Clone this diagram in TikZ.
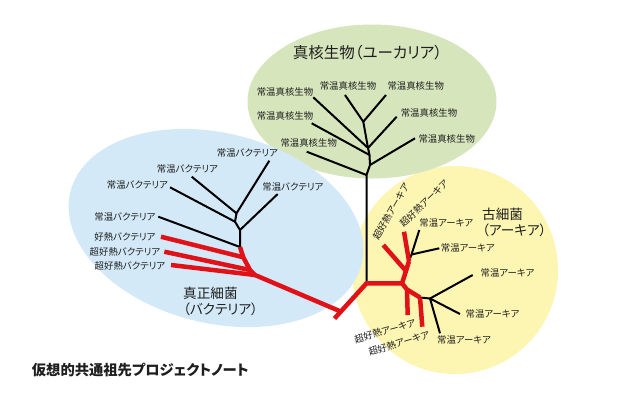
\documentclass[tikz,border=0pt]{standalone}
\usepackage{fontspec}
\setmainfont{Noto Sans CJK JP}[RawFeature=+palt]
\definecolor{greenc}{RGB}{214,229,188}
\definecolor{bluec}{RGB}{211,233,247}
\definecolor{yellowc}{RGB}{253,245,178}
\definecolor{redc}{RGB}{224,18,24}
\definecolor{textc}{RGB}{30,30,30}
\begin{document}
\begin{tikzpicture}[x=1pt,y=-1pt,
  lab/.style={font=\fontsize{9.4}{10}\selectfont, text=textc, inner sep=0pt},
  big/.style={font=\fontsize{13.6}{16}\selectfont, text=textc, inner sep=0pt, align=left},
  blk/.style={draw=black, line width=2pt, line join=round},
  rd/.style={draw=redc, line width=4.5pt, line join=round},
]
\useasboundingbox (0,0) rectangle (640,400);
\fill[white] (0,0) rectangle (640,400);
% regions
\fill[yellowc] (455,270) ellipse [x radius=103pt, y radius=104pt];
\fill[greenc] (372,101.5) ellipse [x radius=124.5pt, y radius=77pt];
\fill[bluec, rotate around={-14:(216,228)}] (216,228) ellipse [x radius=150pt, y radius=95pt];

% ---- coordinates: eukaryotes
\coordinate (e1) at (363.3,121.7);
\coordinate (e2) at (368,148);
\coordinate (e3) at (369.5,155);
\coordinate (e4) at (370,165);
\coordinate (e5) at (366.5,175);
\coordinate (root) at (366.5,283.3);
\coordinate (et1) at (345,95);
\coordinate (et2) at (386,95);
\coordinate (etl1) at (313.3,97.3);
\coordinate (etr1) at (396.7,116.7);
\coordinate (etl2) at (311.7,123.3);
\coordinate (etr2) at (415,138.3);
\coordinate (etl3) at (306.7,151.7);
% ---- bacteria
\coordinate (b1) at (236.5,213.3);
\coordinate (b2) at (235,221.7);
\coordinate (b3) at (240,230);
\coordinate (b4) at (240,247);
\coordinate (br1) at (243.3,257.3);
\coordinate (br2) at (250,270);
\coordinate (br3) at (255,275);
\coordinate (bj) at (339.5,311);
\coordinate (bar1) at (334.5,318.5);
\coordinate (bt1) at (269.3,160.7);
\coordinate (bt2) at (191.7,176.7);
\coordinate (bt3) at (170,187.3);
\coordinate (btr) at (277.7,194);
\coordinate (bt4) at (158.3,216.7);
\coordinate (bh1) at (161,236.7);
\coordinate (bh2) at (164.3,251.7);
\coordinate (bh3) at (171,265);
% ---- archaea
\coordinate (a1) at (402,283.3);
\coordinate (a2) at (406,271);
\coordinate (a3) at (409,261);
\coordinate (a4) at (411.5,254.5);
\coordinate (a5) at (407,289.5);
\coordinate (a6) at (420,297.5);
\coordinate (a7) at (430,298.5);
\coordinate (ah1) at (383.3,245);
\coordinate (ah2) at (404,231.7);
\coordinate (ac1) at (419.3,230);
\coordinate (ac2) at (439.3,248.3);
\coordinate (ah3) at (407.7,315);
\coordinate (ah4) at (422.3,326.7);
\coordinate (ac3) at (472.7,275);
\coordinate (ac4) at (460,314);
\coordinate (ac5) at (440,333.3);

% black branches
\draw[blk] (et1) -- (e1) -- (et2);
\draw[blk] (e1) -- (e2) -- (e3) -- (e4) -- (e5) -- (root);
\draw[blk] (etl1) -- (e2);
\draw[blk] (etr1) -- (e2);
\draw[blk] (etl2) -- (e3);
\draw[blk] (etr2) -- (e4);
\draw[blk] (etl3) -- (e5);
\draw[blk] (bt1) -- (b1) -- (bt2);
\draw[blk] (b1) -- (b2) -- (b3) -- (b4) -- (br1);
\draw[blk] (bt3) -- (b2);
\draw[blk] (btr) -- (b3);
\draw[blk] (bt4) -- (b4);
\draw[blk] (a3) -- (a4);
\draw[blk] (a4) -- (ac1);
\draw[blk] (a4) -- (ac2);
\draw[blk] (a6) -- (a7);
\draw[blk] (a7) -- (ac3);
\draw[blk] (a7) -- (ac4);
\draw[blk] (a7) -- (ac5);
% red branches
\draw[rd] (b4) -- (br1) -- (br2) -- (br3) -- (bj);
\draw[rd] (bh1) -- (br1);
\draw[rd] (bh2) -- (br2);
\draw[rd] (bh3) -- (br3);
\draw[rd, line join=miter] (bar1) -- (root) -- (a1);
\draw[rd] (a1) -- (a2) -- (a3);
\draw[rd] (ah1) -- (a2);
\draw[rd] (ah2) -- (a3);
\draw[rd] (a1) -- (a5) -- (a6);
\draw[rd] (a5) -- (ah3);
\draw[rd] (a6) -- (ah4);

% group titles
\node[big, font=\fontsize{15.5}{18}\selectfont] (tEuk) at (367.5,52.5) {真核生物（ユーカリア）};
\node[big, anchor=west] (tBac) at (183,301) {真正細菌\\（バクテリア）};
\node[big, anchor=west] (tArc) at (482,222.5) {古細菌\\（アーキア）};

% eukaryote labels
\node[lab] (le1) at (285,92.3) {常温真核生物};
\node[lab] (le2) at (348,86) {常温真核生物};
\node[lab] (le3) at (415.7,86) {常温真核生物};
\node[lab] (le4) at (285,115.7) {常温真核生物};
\node[lab] (le5) at (429,113.3) {常温真核生物};
\node[lab] (le6) at (308.7,143.3) {常温真核生物};
\node[lab] (le7) at (446.7,139) {常温真核生物};
% bacteria labels
\node[lab] (lb1) at (247.5,153.3) {常温バクテリア};
\node[lab] (lb2) at (187.5,169) {常温バクテリア};
\node[lab] (lb3) at (137.5,185) {常温バクテリア};
\node[lab] (lb4) at (293,187.3) {常温バクテリア};
\node[lab] (lb5) at (125,216.7) {常温バクテリア};
\node[lab] (lb6) at (125,236.7) {好熱バクテリア};
\node[lab] (lb7) at (125,251.7) {超好熱バクテリア};
\node[lab] (lb8) at (130,265.7) {超好熱バクテリア};
% archaea labels
\node[lab, rotate=60] (la1) at (391,211.7) {超好熱アーキア};
\node[lab, rotate=44] (la2) at (424,203.3) {超好熱アーキア};
\node[lab] (la3) at (446.3,222.7) {常温アーキア};
\node[lab] (la4) at (467.8,248.3) {常温アーキア};
\node[lab] (la5) at (507.5,273.3) {常温アーキア};
\node[lab] (la6) at (492.5,314) {常温アーキア};
\node[lab] (la7) at (464,340) {常温アーキア};
\node[lab, rotate=16] (la8) at (385,331) {超好熱アーキア};
\node[lab, rotate=17] (la9) at (399,343.3) {超好熱アーキア};

% footer
\node[inner sep=0pt, anchor=west, text=textc, font=\fontsize{14.3}{16}\selectfont\bfseries] (foot) at (31.7,370) {仮想的共通祖先プロジェクトノート};
\end{tikzpicture}
\end{document}
